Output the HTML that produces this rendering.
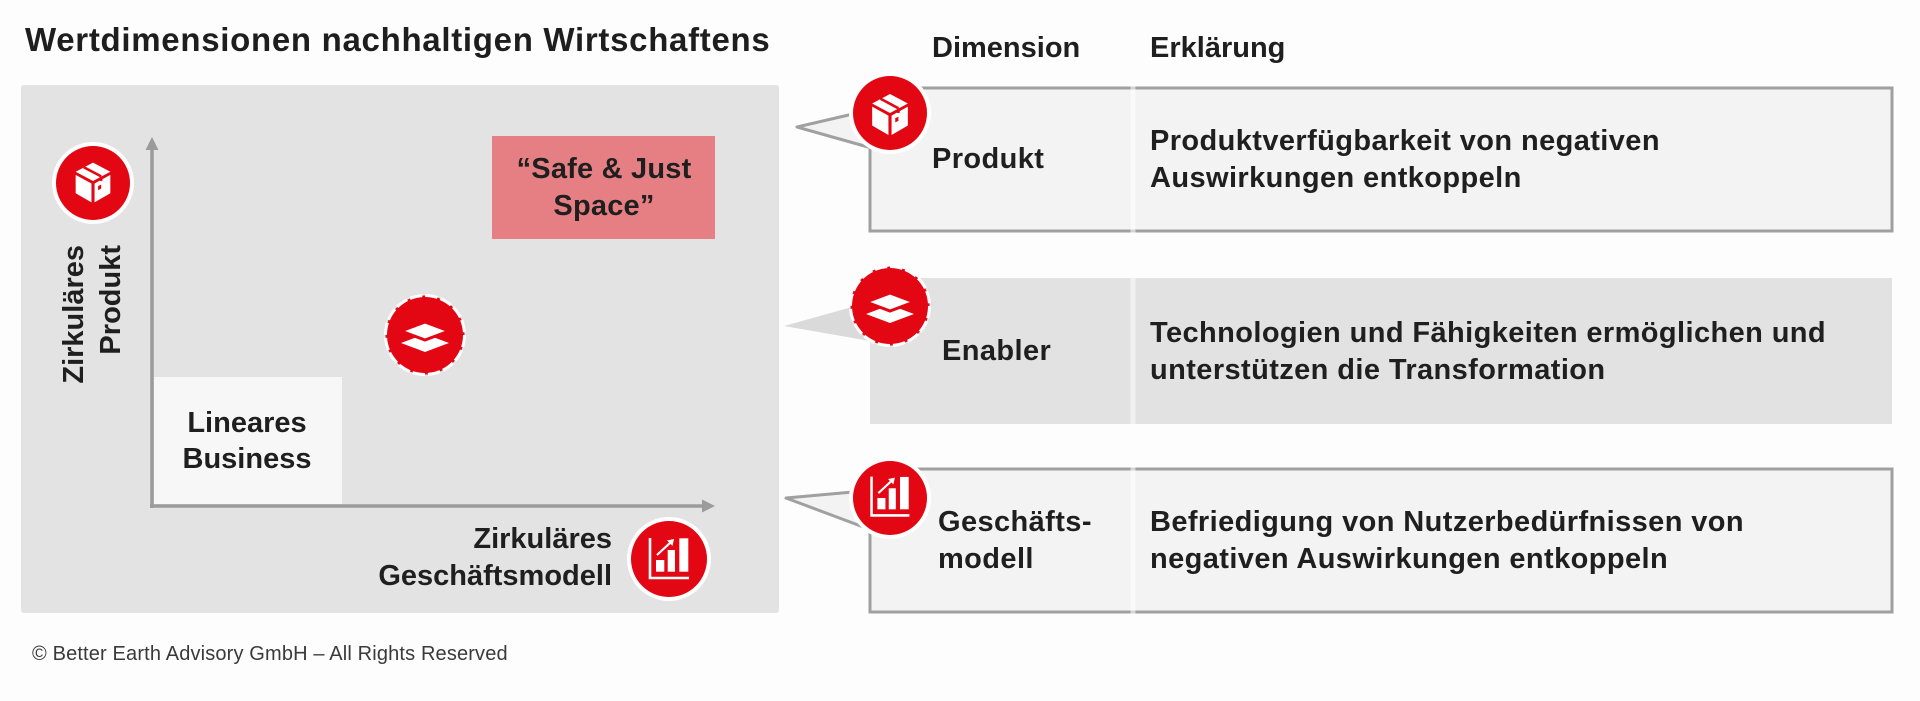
<!DOCTYPE html>
<html>
<head>
<meta charset="utf-8">
<style>
  html,body{margin:0;padding:0;background:#fdfdfd;}
  svg{display:block;}
  text{font-family:"Liberation Sans", Arial, sans-serif;fill:#1f1f1f;}
  .b{font-weight:bold;font-size:29px;}
  .r{font-weight:bold;font-size:29px;letter-spacing:0.4px;}
</style>
</head>
<body>
<svg width="1920" height="701" viewBox="0 0 1920 701" xmlns="http://www.w3.org/2000/svg">
  <defs>
    <g id="cube">
      <polygon points="0,-19 17,-10 0,-1 -17,-10" fill="#fff"/>
      <polygon points="-17,-7 -1.5,1.5 -1.5,20 -17,11" fill="#fff"/>
      <polygon points="17,-7 1.5,1.5 1.5,20 17,11" fill="#fff"/>
      <line x1="-9" y1="-14.5" x2="8" y2="-5.5" stroke="#e30613" stroke-width="2.5"/>
      <line x1="8" y1="-5.5" x2="8" y2="-1" stroke="#e30613" stroke-width="2.5"/>
      <polygon points="5,4 8,2.5 8,6.5 5,8" fill="#e30613"/>
    </g>
    <g id="chart">
      <polyline points="-19,-21 -19,19 20,19" fill="none" stroke="#fff" stroke-width="2.6"/>
      <rect x="-13" y="1" width="8.3" height="11.7" fill="#fff"/>
      <rect x="-1.3" y="-9" width="7.3" height="21.7" fill="#fff"/>
      <rect x="10.3" y="-20.7" width="9" height="33.4" fill="#fff"/>
      <line x1="-12" y1="-4" x2="2" y2="-17" stroke="#fff" stroke-width="2.2"/>
      <polygon points="5,-20 -2,-18.5 3.5,-13" fill="#fff"/>
    </g>
    <g id="layers">
      <polygon points="-24,12 0,3 24,12 0,21" fill="#fff"/>
      <polygon points="-24,0 0,-9 24,0 0,9" fill="#fff" stroke="#e30613" stroke-width="3" stroke-linejoin="miter"/>
    </g>
  </defs>

  <rect width="1920" height="701" fill="#fdfdfd"/>

  <!-- Title -->
  <text x="25" y="51" font-size="33" font-weight="bold" letter-spacing="0.7" style="fill:#1e1e1e">Wertdimensionen nachhaltigen Wirtschaftens</text>

  <!-- Left panel -->
  <rect x="21" y="85" width="758" height="528" rx="3" fill="#e3e3e3"/>

  <!-- Lineares Business box -->
  <rect x="154" y="377" width="188" height="127" fill="#f7f7f7"/>
  <text class="b" x="247" y="432" text-anchor="middle">Lineares</text>
  <text class="b" x="247" y="468" text-anchor="middle">Business</text>

  <!-- Axes -->
  <line x1="152" y1="148" x2="152" y2="508" stroke="#9b9b9b" stroke-width="3.5"/>
  <polygon points="152,137 145.5,150 158.5,150" fill="#9b9b9b"/>
  <line x1="150" y1="506" x2="704" y2="506" stroke="#9b9b9b" stroke-width="3.5"/>
  <polygon points="715,506 702,499.5 702,512.5" fill="#9b9b9b"/>

  <!-- Safe & Just Space -->
  <rect x="492" y="136" width="223" height="103" fill="#e57f84"/>
  <text class="b" x="604" y="178" text-anchor="middle" letter-spacing="0.2">“Safe &amp; Just</text>
  <text class="b" x="604" y="215" text-anchor="middle" letter-spacing="0.2">Space”</text>

  <!-- Left product icon -->
  <circle cx="93" cy="183" r="41" fill="#fff"/>
  <circle cx="93" cy="183" r="37" fill="#e30613"/>
  <use href="#cube" transform="translate(93,182) scale(1.02)"/>

  <!-- Y axis label -->
  <text class="b" transform="rotate(-90)" x="-245" y="83" text-anchor="end">Zirkuläres</text>
  <text class="b" transform="rotate(-90)" x="-245" y="120" text-anchor="end">Produkt</text>

  <!-- Enabler icon in chart -->
  <circle cx="425" cy="335" r="39.5" fill="#e30613" stroke="#fff" stroke-width="3" stroke-dasharray="12.5 3"/>
  <use href="#layers" transform="translate(425,331)"/>

  <!-- X axis label -->
  <text class="b" x="612" y="548" text-anchor="end">Zirkuläres</text>
  <text class="b" x="612" y="585" text-anchor="end">Geschäftsmodell</text>

  <!-- Chart icon in chart -->
  <circle cx="669" cy="559" r="42" fill="#fff"/>
  <circle cx="669" cy="559" r="38" fill="#e30613"/>
  <use href="#chart" transform="translate(669,559)"/>

  <!-- Copyright -->
  <text x="32" y="660" font-size="20" letter-spacing="0.15" style="fill:#3a3a3a">© Better Earth Advisory GmbH – All Rights Reserved</text>

  <!-- Headers -->
  <text class="b" x="932" y="57">Dimension</text>
  <text class="b" x="1150" y="57">Erklärung</text>

  <!-- Row 1 -->
  <rect x="870" y="88" width="1022" height="143" fill="#f3f3f3" stroke="#a0a0a0" stroke-width="3"/>
  <rect x="1130.5" y="86" width="5" height="147" fill="#ffffff" opacity="0.55"/>
  <polygon points="868,147 797,127 853,114" fill="#f3f3f3" stroke="#a0a0a0" stroke-width="3" stroke-linejoin="round"/>
  <circle cx="890" cy="113" r="41" fill="#fff"/>
  <circle cx="890" cy="113" r="37" fill="#e30613"/>
  <use href="#cube" transform="translate(890,114) scale(1.05)"/>
  <text class="r" x="932" y="168">Produkt</text>
  <text class="r" x="1150" y="150">Produktverfügbarkeit von negativen</text>
  <text class="r" x="1150" y="187">Auswirkungen entkoppeln</text>

  <!-- Row 2 -->
  <rect x="870" y="278" width="1022" height="146" fill="#e2e2e2"/>
  <rect x="1130.5" y="278" width="5" height="146" fill="#ffffff" opacity="0.5"/>
  <polygon points="870,341 784,326 852,307" fill="#dadada"/>
  <circle cx="890" cy="306" r="39.5" fill="#e30613" stroke="#fff" stroke-width="3" stroke-dasharray="12.5 3"/>
  <use href="#layers" transform="translate(890,302)"/>
  <text class="r" x="942" y="360">Enabler</text>
  <text class="r" x="1150" y="342">Technologien und Fähigkeiten ermöglichen und</text>
  <text class="r" x="1150" y="379">unterstützen die Transformation</text>

  <!-- Row 3 -->
  <rect x="870" y="469" width="1022" height="143" fill="#f3f3f3" stroke="#a0a0a0" stroke-width="3"/>
  <rect x="1130.5" y="467" width="5" height="147" fill="#ffffff" opacity="0.55"/>
  <polygon points="866,528 786,498 853,492" fill="#f3f3f3" stroke="#a0a0a0" stroke-width="3" stroke-linejoin="round"/>
  <circle cx="890" cy="498" r="41" fill="#fff"/>
  <circle cx="890" cy="498" r="37" fill="#e30613"/>
  <use href="#chart" transform="translate(890,497) scale(0.97)"/>
  <text class="r" x="938" y="531">Geschäfts-</text>
  <text class="r" x="938" y="568">modell</text>
  <text class="r" x="1150" y="531">Befriedigung von Nutzerbedürfnissen von</text>
  <text class="r" x="1150" y="568">negativen Auswirkungen entkoppeln</text>
</svg>
</body>
</html>
